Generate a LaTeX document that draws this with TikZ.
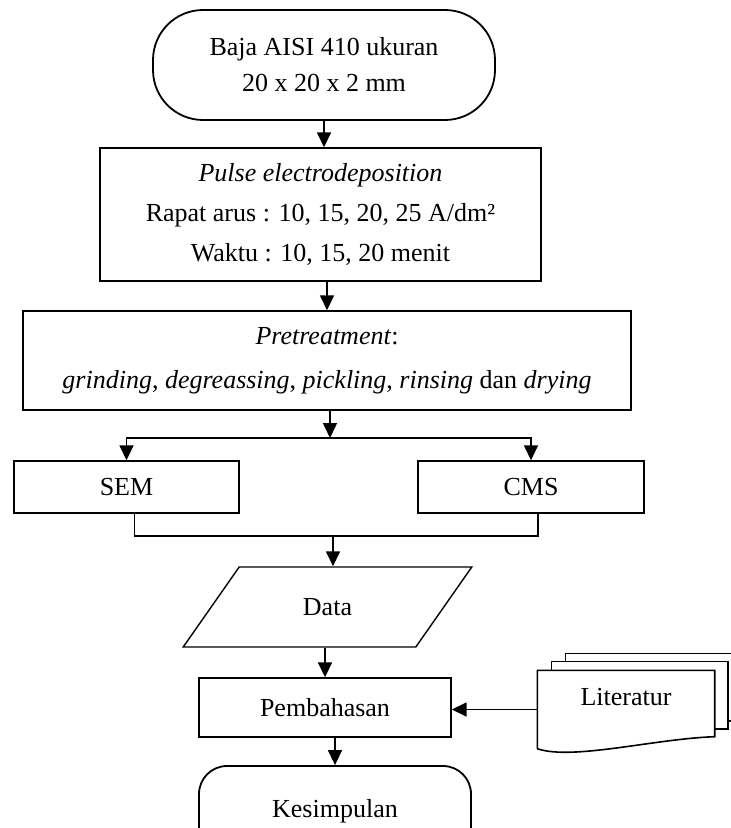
\documentclass[tikz,border=0pt]{standalone}
\usepackage{fontspec}
\setmainfont{Liberation Serif}
\usepackage{tikz}
\usetikzlibrary{math,calc,shapes.geometric,arrows.meta}

\begin{document}
\begin{tikzpicture}[x=0.5pt,y=-0.5pt,
    line/.style={line width=0.8pt},
    arr/.style={line width=0.8pt,-{Triangle[length=7.5pt,width=7pt]}},
    box/.style={draw,line width=0.7pt,rectangle,align=center,inner sep=0pt,font=\fontsize{13}{20}\selectfont},
    term/.style={box,line width=0.9pt,rounded corners=25pt},
    io/.style={draw,line width=0.7pt,trapezium,trapezium left angle=48,trapezium right angle=132,
      trapezium stretches=true,inner sep=0pt,font=\fontsize{13}{15}\selectfont}]
      \tikzmath{\splity = 438; \mergey = 536; \splitx = 330; \mergex = 333;}
      \useasboundingbox (0,0) rectangle (731,828);
      \clip (0,0) rectangle (731,828);
      \node[term, minimum width=171pt, minimum height=55pt, font=\fontsize{13}{18}\selectfont] (start) at (324,65) {Baja AISI 410 ukuran\\20 x 20 x 2 mm};
      \node[box, minimum width=220.5pt, minimum height=66.5pt] (pulse) at (320.5,214.5) {\textit{Pulse electrodeposition}\\Rapat arus : 10, 15, 20, 25 A/dm²\\Waktu : 10, 15, 20 menit};
      \node[box, minimum width=304pt, minimum height=49.5pt, font=\fontsize{13}{22}\selectfont] (pre) at (327,360.5) {\textit{Pretreatment}:\\\textit{grinding}, \textit{degreassing}, \textit{pickling}, \textit{rinsing} dan \textit{drying}};
      \node[box, minimum width=112.5pt, minimum height=26pt] (sem) at (126.5,487) {SEM};
      \node[box, minimum width=113pt, minimum height=26pt] (cms) at (531,487) {CMS};
      \node[io, minimum width=144.5pt, minimum height=40pt] (data) at (327.5,607) {Data};
      \node[box, minimum width=126pt, minimum height=29.5pt] (pem) at (325,707.5) {Pembahasan};
      \node[term, minimum width=136pt, minimum height=45pt, rounded corners=14pt] (kes) at (335,811) {Kesimpulan};
      \node[box, draw=none, minimum width=88pt, minimum height=32.5pt, text height=8pt, text depth=6pt] (lit) at (626,703.5) {Literatur};
      \draw[line] ($(lit.north west)+(28,-9)$) -- ($(lit.north west)+(28,-17)$) -- ($(lit.north east)+(40,-17)$) -- ($(lit.south east)+(40,-16)$) -- ($(lit.south east)+(13,-16)$);
      \draw[line] ($(lit.north west)+(14,0)$) -- ($(lit.north west)+(14,-9)$) -- ($(lit.north east)+(13,-9)$) -- ($(lit.south east)+(13,-8)$) -- ($(lit.south east)+(0,-8)$);
      \draw[line] (lit.north west) -- (lit.north east) -- (lit.south east) .. controls +(-60,2) and +(35,12) .. ($(lit.south west)+(0,12)$) -- cycle;
      \coordinate (split) at (\splitx,\splity);
      \coordinate (merge) at (\mergex,\mergey);
      \coordinate (litin) at ($(lit.west)+(0,6)$);
      \draw[arr] (start.south) -- (start.south |- pulse.north);
      \draw[arr] (pre.north |- pulse.south) -- (pre.north);
      \draw[arr] (split |- pre.south) -- (split);
      \draw[arr] (split) -| (sem.north);
      \draw[arr] (split) -| (cms.north);
      \draw[line] ($(sem.south)+(8,0)$) |- (merge) -| ($(cms.south)+(7,0)$);
      \draw[arr] (merge) -- (merge |- data.north);
      \draw[arr] (pem.north |- data.south) -- (pem.north);
      \draw[arr] (kes.north |- pem.south) -- (kes.north);
      \draw[arr] (litin) -- (litin -| pem.east);
    \end{tikzpicture}
\end{document}
